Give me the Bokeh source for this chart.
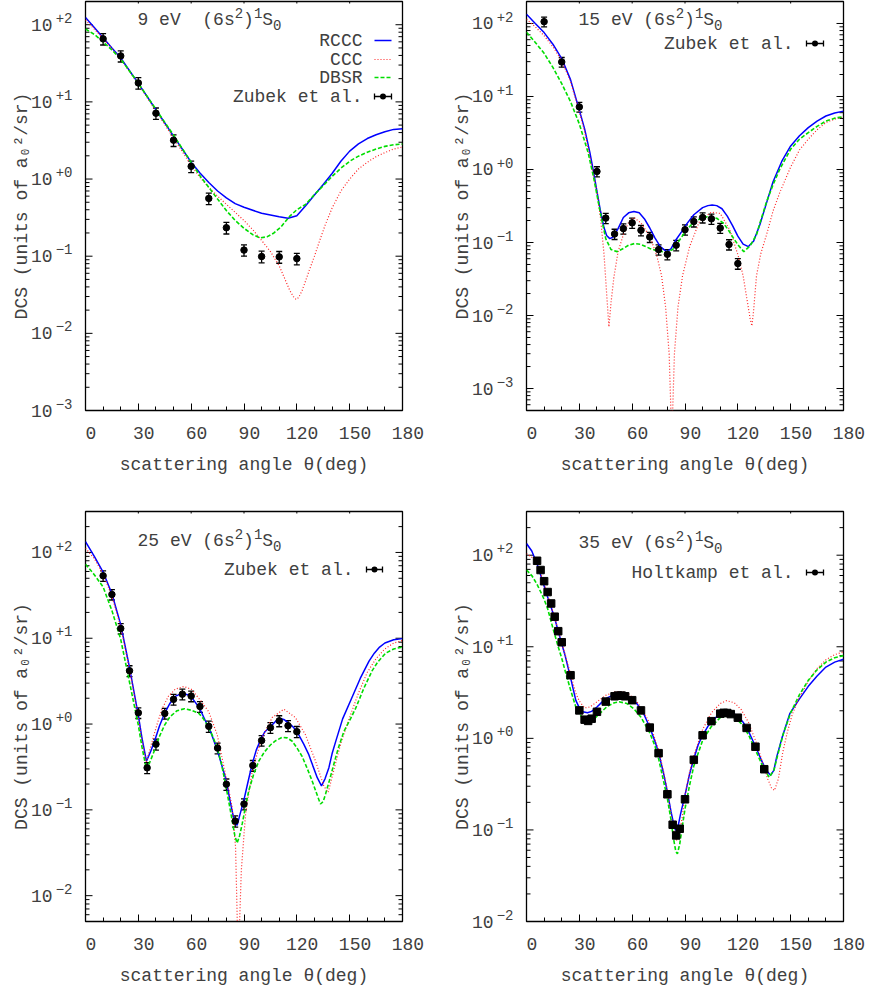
import math
import numpy as np
from bokeh.plotting import figure
from bokeh.layouts import column, row
from bokeh.models import (ColumnDataSource, Whisker, TeeHead, FixedTicker, Label, Arrow,
                          BoxAnnotation, Range1d, LogAxis, LogScale)
from bokeh.embed import file_html
from bokeh.resources import INLINE

FONT = "Liberation Mono"
INK = "#404040"
BLUE, RED, GREEN = "#0000ff", "#ff2424", "#00dd00"

# ---------------- 9 eV ----------------
e9_rccc_theta = [0, 5, 10, 15, 20, 30, 40, 50, 60, 65, 70, 75, 80, 85, 90, 100, 110, 115, 120,
                 125, 130, 135, 140, 145, 150, 155, 160, 165, 170, 175, 180]
e9_rccc_dcs = [124, 92, 68, 50, 37, 17.4, 7.9, 3.6, 1.65, 1.2, 0.9, 0.7, 0.57, 0.48, 0.43, 0.36,
               0.325, 0.31, 0.335, 0.45, 0.62, 0.85, 1.18, 1.7, 2.3, 2.85, 3.35, 3.75, 4.1, 4.4, 4.5]
e9_ccc_theta = [0, 5, 10, 20, 30, 40, 50, 60, 65, 70, 75, 80, 85, 90, 95, 100, 105, 110, 113, 116,
                118, 119.5, 121, 123, 125, 127, 130, 133, 136, 140, 145, 150, 155, 160, 165, 170,
                175, 180]
e9_ccc_dcs = [115, 88, 66, 36, 17, 7.6, 3.4, 1.5, 1.05, 0.78, 0.6, 0.47, 0.37, 0.29, 0.22, 0.16,
              0.115, 0.075, 0.052, 0.036, 0.03, 0.0275, 0.029, 0.036, 0.048, 0.065, 0.1, 0.16,
              0.25, 0.42, 0.7, 1.0, 1.35, 1.65, 1.95, 2.2, 2.45, 2.6]
e9_dbsr_theta = [0, 5, 10, 15, 20, 30, 40, 50, 60, 65, 70, 75, 80, 85, 90, 95, 99, 103, 107, 111,
                 116, 120, 125, 130, 135, 140, 145, 150, 155, 160, 165, 170, 175, 180]
e9_dbsr_dcs = [88, 75, 60, 47, 36, 17.4, 8.0, 3.7, 1.65, 1.1, 0.78, 0.55, 0.39, 0.29, 0.23, 0.19,
               0.173, 0.178, 0.2, 0.24, 0.33, 0.4, 0.47, 0.63, 0.82, 1.08, 1.38, 1.7, 1.98, 2.22,
               2.45, 2.65, 2.78, 2.84]
e9_exp_theta = [10, 20, 30, 40, 50, 60, 70, 80, 90, 100, 110, 120]
e9_exp_dcs = [65.6, 39.4, 17.6, 7.13, 3.19, 1.46, 0.561, 0.234, 0.120, 0.099, 0.098, 0.093]
e9_exp_err = [11, 6.5, 3.0, 1.2, 0.55, 0.25, 0.095, 0.04, 0.02, 0.017, 0.017, 0.016]

# ---------------- 15 eV ----------------
e15_rccc_theta = [0, 5, 10, 15, 20, 25, 30, 33, 36, 38, 40, 42, 44, 45.5, 47.3, 49, 52, 55, 58,
                  61, 64, 67, 70, 73, 76, 79.5, 82, 85, 88, 91, 95, 100, 103, 105.4, 108, 111,
                  114, 117, 120, 123, 126, 129, 132.5, 136, 140, 145, 150, 155, 160, 165, 170,
                  175, 180]
e15_rccc_dcs = [134, 100, 75, 52, 33, 17, 6.5, 3.6, 1.7, 0.95, 0.5, 0.27, 0.16, 0.125, 0.113,
                0.118, 0.155, 0.22, 0.255, 0.265, 0.255, 0.21, 0.158, 0.115, 0.088, 0.075, 0.082,
                0.11, 0.14, 0.18, 0.24, 0.30, 0.32, 0.327, 0.32, 0.29, 0.23, 0.17, 0.122, 0.095,
                0.088, 0.105, 0.175, 0.33, 0.68, 1.3, 2.1, 2.9, 3.75, 4.6, 5.4, 5.95, 6.3]
e15_ccc_theta = [0, 5, 10, 15, 20, 25, 30, 33, 36, 38, 40, 42, 44, 45.5, 46.8, 48, 49.6, 52, 55,
                 58, 61, 65, 70, 74, 76.7, 79, 81, 82.5, 84, 86, 88.6, 92.7, 98.4, 105, 110,
                 115.5, 120.2, 123, 125.5, 127, 128, 129, 130.6, 133, 136.3, 140, 143.9, 150,
                 155, 160, 165, 170, 175, 180]
e15_ccc_dcs = [114, 90, 68, 48, 31, 16, 6.2, 3.3, 1.5, 0.85, 0.5, 0.22, 0.07, 0.02, 0.007, 0.015,
               0.033, 0.075, 0.128, 0.19, 0.22, 0.185, 0.122, 0.066, 0.035, 0.013, 0.003, 0.0002,
               0.003, 0.013, 0.035, 0.089, 0.2, 0.26, 0.25, 0.148, 0.066, 0.035, 0.015, 0.009,
               0.0072, 0.012, 0.035, 0.07, 0.128, 0.27, 0.49, 1.08, 1.85, 2.6, 3.5, 4.4, 4.9, 5.25]
e15_dbsr_theta = [0, 5, 10, 15, 20, 25, 30, 35, 38, 40, 42, 45, 48, 51.5, 55, 58, 61.5, 65, 70,
                  75, 79.5, 83, 86, 89, 92, 94.6, 98, 101, 104, 108, 111.7, 114.5, 117.4, 120.5,
                  123.4, 127, 130.6, 133, 136.3, 140, 143.9, 150, 155, 160, 165, 170, 175, 180]
e15_dbsr_dcs = [76, 55, 39, 25, 15, 8.5, 4.2, 1.7, 0.8, 0.45, 0.25, 0.113, 0.08, 0.075, 0.083,
                0.092, 0.097, 0.094, 0.083, 0.076, 0.074, 0.08, 0.1, 0.128, 0.16, 0.185, 0.208,
                0.222, 0.227, 0.215, 0.185, 0.15, 0.116, 0.09, 0.075, 0.09, 0.128, 0.2, 0.36,
                0.62, 1.02, 1.9, 2.6, 3.2, 3.9, 4.6, 5.05, 5.3]
e15_exp_theta = [10, 20, 30, 40, 45, 50, 55, 60, 65, 70, 75, 80, 85, 90, 95, 100, 105, 110, 115, 120]
e15_exp_dcs = [106, 29.7, 7.2, 0.94, 0.216, 0.131, 0.155, 0.186, 0.147, 0.119, 0.080, 0.069,
               0.092, 0.15, 0.194, 0.22, 0.211, 0.158, 0.094, 0.0515]
e15_exp_err = [16, 4.5, 1.1, 0.15, 0.035, 0.021, 0.025, 0.03, 0.024, 0.019, 0.013, 0.011, 0.015,
               0.024, 0.031, 0.035, 0.034, 0.025, 0.015, 0.0085]

# ---------------- 25 eV ----------------
e25_rccc_theta = [0, 5, 10, 15, 20, 25, 30, 32, 34.6, 37, 39.7, 42, 44.9, 48, 51, 54.9, 58, 61,
                  64.7, 68, 71, 74.8, 78, 80, 82, 83.5, 84.8, 86.1, 87.5, 89.9, 92, 94.6, 97,
                  99.9, 102, 105, 108, 110.7, 113, 115.5, 118, 121.1, 124, 126.8, 129, 131.6,
                  134, 136, 138.2, 140, 142, 146, 151, 156, 161, 164, 167, 170, 175, 180]
e25_rccc_dcs = [134, 90, 59, 33, 14.4, 4.56, 1.26, 0.7, 0.369, 0.48, 0.68, 0.95, 1.33, 1.75, 2.1,
                2.29, 2.2, 1.95, 1.54, 1.1, 0.82, 0.50, 0.3, 0.217, 0.13, 0.092, 0.072, 0.066,
                0.085, 0.129, 0.2, 0.34, 0.5, 0.69, 0.82, 0.93, 1.08, 1.16, 1.12, 1.02, 0.92,
                0.75, 0.58, 0.44, 0.33, 0.237, 0.19, 0.23, 0.31, 0.45, 0.62, 1.15, 1.97, 3.4,
                5.4, 6.7, 7.9, 8.8, 9.6, 9.9]
e25_ccc_theta = [0, 5, 10, 15, 20, 25, 30, 32, 34.5, 36.5, 38.8, 41, 43.5, 47, 51, 55.8, 60, 65.3,
                 70, 74.8, 79.5, 83.3, 85.2, 86.1, 86.7, 87.5, 88.5, 90.9, 94.6, 99.9, 106,
                 112.6, 119.2, 124.9, 130.6, 135.3, 137.8, 141, 145, 150, 155, 160, 165, 170,
                 175, 180]
e25_ccc_dcs = [112, 85, 56, 31, 13.5, 4.3, 1.2, 0.65, 0.36, 0.5, 0.74, 1.05, 1.5, 2.1, 2.55,
               2.74, 2.55, 1.89, 1.39, 0.75, 0.26, 0.107, 0.037, 0.006, 0.001, 0.005, 0.02,
               0.09, 0.28, 0.67, 1.19, 1.49, 1.19, 0.75, 0.37, 0.19, 0.16, 0.29, 0.6, 1.2, 2.3,
               4.0, 5.8, 7.5, 8.8, 9.4]
e25_dbsr_theta = [0, 5, 10, 15, 20, 25, 30, 32, 34.6, 37, 39.7, 42, 44.9, 48, 52, 56.2, 60, 64.4,
                  67, 70, 72.5, 74.8, 77, 79.5, 81.5, 83.3, 84.8, 86.1, 87.5, 89, 90.9, 92.7,
                  95.5, 98.4, 101.5, 105, 108, 111.7, 114.5, 117.4, 120, 123, 126, 128.7, 131,
                  133.4, 135, 136.3, 138.5, 141, 143.5, 146.7, 150, 153.3, 158, 162.8, 166,
                  170.4, 175, 180]
e25_dbsr_dcs = [73, 55, 39.6, 21, 9.7, 3.07, 0.97, 0.55, 0.296, 0.38, 0.525, 0.72, 0.97, 1.22,
                1.43, 1.51, 1.45, 1.33, 1.15, 0.91, 0.7, 0.52, 0.36, 0.2, 0.12, 0.075, 0.05,
                0.041, 0.05, 0.069, 0.11, 0.167, 0.26, 0.37, 0.47, 0.57, 0.64, 0.70, 0.69, 0.63,
                0.53, 0.42, 0.3, 0.217, 0.16, 0.117, 0.125, 0.153, 0.22, 0.34, 0.52, 0.82, 1.1,
                1.51, 2.6, 4.2, 5.3, 6.7, 7.5, 7.9]
e25_exp_theta = [10, 15, 20, 25, 30, 35, 40, 45, 50, 55, 60, 65, 70, 75, 80, 85, 90, 95, 100,
                 105, 110, 115, 120]
e25_exp_dcs = [53.5, 32.4, 13.0, 4.18, 1.35, 0.309, 0.583, 1.33, 1.94, 2.23, 2.12, 1.60, 0.94,
               0.525, 0.199, 0.074, 0.117, 0.329, 0.643, 0.908, 1.09, 0.957, 0.816]
e25_exp_err = [7.5, 4.5, 1.8, 0.6, 0.19, 0.045, 0.085, 0.19, 0.28, 0.32, 0.3, 0.23, 0.14, 0.075,
               0.03, 0.011, 0.017, 0.047, 0.09, 0.13, 0.16, 0.14, 0.12]

# ---------------- 35 eV ----------------
e35_rccc_theta = [0, 3, 6, 8, 10, 12, 14, 16, 18, 20, 22, 25, 28, 30, 32, 34.6, 37, 40, 43, 46,
                  50, 53, 56, 60, 63, 66, 70, 73, 75, 78, 80, 82, 83.5, 84.6, 86, 87.5, 90, 92.5,
                  95, 97.5, 100, 103, 106, 110, 113.6, 117, 120, 123, 126, 130, 133, 136, 138.6,
                  140.5, 142, 145, 149.5, 155, 160, 165, 170, 175, 180]
e35_rccc_dcs = [134, 111, 80, 61, 46, 35, 27, 20.5, 14.8, 10.8, 7.9, 4.6, 2.6, 2.15, 1.95, 1.9,
                1.97, 2.2, 2.5, 2.78, 3.0, 3.05, 2.98, 2.7, 2.35, 1.95, 1.32, 0.92, 0.70, 0.4,
                0.26, 0.16, 0.118, 0.099, 0.108, 0.15, 0.24, 0.4, 0.6, 0.85, 1.08, 1.35, 1.6,
                1.85, 1.95, 1.9, 1.75, 1.5, 1.2, 0.82, 0.6, 0.45, 0.395, 0.45, 0.62, 1.0, 1.86,
                2.7, 3.7, 4.8, 6.0, 6.8, 7.3]
e35_ccc_theta = [0, 3, 6, 8, 10, 12, 14, 16, 18, 20, 22, 25, 28, 30, 33, 36, 40, 45, 50, 54, 58,
                 62, 66, 70, 73, 75, 78, 80, 82, 83.5, 85.3, 87, 88.5, 90, 92.5, 95, 100, 105,
                 110, 113.6, 118, 122, 126, 130, 134, 137, 139, 140.8, 143, 145.5, 148, 151, 155,
                 160, 165, 170, 175, 180]
e35_ccc_dcs = [104, 95, 80, 64, 49, 37, 28, 21, 15.2, 11, 8.2, 5.0, 3.1, 2.55, 2.15, 2.2, 2.5,
               2.95, 3.2, 3.25, 3.05, 2.6, 2.05, 1.45, 0.98, 0.75, 0.42, 0.27, 0.15, 0.1, 0.077,
               0.095, 0.14, 0.24, 0.42, 0.65, 1.25, 1.9, 2.4, 2.58, 2.45, 2.05, 1.5, 0.95, 0.55,
               0.36, 0.29, 0.27, 0.36, 0.7, 1.15, 1.85, 2.8, 4.2, 5.8, 7.2, 8.2, 8.8]
e35_dbsr_theta = [0, 3, 6, 8, 10, 12, 15, 18, 20, 22, 25, 28, 30, 33, 35, 38, 42, 46, 50, 53, 57,
                  61, 65, 70, 73, 75, 78, 80, 82, 83.5, 84.8, 85.7, 87, 88.5, 90, 92.5, 95, 100,
                  105, 110, 114, 118, 122, 126, 130, 134, 137.8, 140.5, 143, 146, 150, 155, 160,
                  165, 170, 175, 180]
e35_dbsr_dcs = [69, 60, 48, 40, 33, 26, 16, 10, 7.5, 5.4, 3.4, 2.2, 1.85, 1.6, 1.52, 1.6, 1.9,
                2.25, 2.45, 2.5, 2.4, 2.1, 1.7, 1.15, 0.82, 0.6, 0.33, 0.22, 0.13, 0.08, 0.058,
                0.055, 0.07, 0.11, 0.17, 0.3, 0.5, 0.95, 1.35, 1.68, 1.78, 1.7, 1.45, 1.1, 0.75,
                0.5, 0.376, 0.45, 0.7, 1.15, 1.9, 3.0, 4.3, 5.6, 6.8, 7.6, 8.0]
e35_exp_theta = [6, 8, 10, 12, 14, 16, 18, 20, 25, 30, 33, 35, 37, 40, 45, 50, 52, 54, 56, 60, 65,
                 70, 75, 80, 83, 85, 87, 90, 95, 100, 105, 110, 112, 114, 116, 120, 125, 130, 135]
e35_exp_dcs = [86.9, 68.9, 52, 39.6, 29.7, 21.3, 14.8, 11.2, 4.89, 2.02, 1.60, 1.55, 1.64, 1.95,
               2.52, 2.88, 2.93, 2.93, 2.88, 2.61, 2.02, 1.31, 0.689, 0.245, 0.114, 0.087, 0.103,
               0.216, 0.583, 1.08, 1.54, 1.86, 1.90, 1.89, 1.84, 1.68, 1.30, 0.81, 0.46]
e35_exp_err = [5.2, 4.1, 3.1, 2.4, 1.8, 1.3, 0.9, 0.67, 0.29, 0.12, 0.096, 0.093, 0.098, 0.117,
               0.15, 0.17, 0.18, 0.18, 0.17, 0.16, 0.12, 0.079, 0.041, 0.015, 0.0068, 0.0052,
               0.0062, 0.013, 0.035, 0.065, 0.092, 0.11, 0.11, 0.11, 0.11, 0.10, 0.078, 0.049,
               0.028]

# ---------------- axes ----------------
x_ticks = [0, 30, 60, 90, 120, 150, 180]
x_minor = [10, 20, 40, 50, 70, 80, 100, 110, 130, 140, 160, 170]
y_ticks = [1e-3, 1e-2, 1e-1, 1.0, 10.0, 100.0]
y_exponents = ["−3", "−2", "−1", "+0", "+1", "+2"]
y_minor = [m * 10.0 ** d for d in range(-4, 3) for m in range(2, 10)]

x_title = "scattering angle θ(deg)"
y_title = "DCS (units of a₀²/sr)"

FS, FS_SMALL = 18, 14          # main and superscript font sizes (px)
ADV = 0.6                      # monospace advance, in em
MAJOR_LEN, MINOR_LEN = 7, 4
SUP_RISE = 7                   # how far an exponent sits above its tick label (px)
NBSP = "\u00a0"


def style_text_axis(ax, size):
    ax.axis_line_color = None
    ax.major_tick_in = 0
    ax.major_tick_out = 0
    ax.minor_tick_in = 0
    ax.minor_tick_out = 0
    ax.major_tick_line_color = None
    ax.minor_tick_line_color = None
    ax.major_label_text_font = FONT
    ax.major_label_text_font_size = f"{size}px"
    ax.major_label_text_color = INK
    ax.axis_label_text_font = FONT
    ax.axis_label_text_font_size = f"{FS}px"
    ax.axis_label_text_font_style = "normal"
    ax.axis_label_text_color = INK


def frame_ticks(p, fw, fh, y_lo, y_hi):
    """Inward ticks on the left, top and right edges of the frame."""
    def add(src, dim):
        p.add_layout(Whisker(source=src, base="b", lower="lo", upper="hi", dimension=dim,
                             lower_units="screen", upper_units="screen",
                             lower_head=None, upper_head=None,
                             line_color="black", line_width=1))
    for ticks, length in ((x_ticks, MAJOR_LEN), (x_minor, MINOR_LEN)):
        n = len(ticks)
        add(ColumnDataSource(dict(b=ticks, lo=[fh - length] * n, hi=[fh] * n)), "height")
    for ticks, length in ((y_ticks, MAJOR_LEN), (y_minor, MINOR_LEN)):
        inside = [t for t in ticks if y_lo < t < y_hi]
        n = len(inside)
        add(ColumnDataSource(dict(b=inside, lo=[fw - length] * n, hi=[fw] * n)), "width")
        add(ColumnDataSource(dict(b=inside, lo=[0] * n, hi=[length] * n)), "width")


def make_panel(width, height, borders, y_lo, y_hi):
    left, right, top, bottom = borders
    fw, fh = width - left - right, height - top - bottom
    # exponent labels use a copy of the y range nudged so they sit SUP_RISE px higher
    px_per_decade = fh / math.log10(y_hi / y_lo)
    nudge = 10 ** (-SUP_RISE / px_per_decade)
    p = figure(width=width, height=height, x_range=Range1d(0, 180),
               y_range=Range1d(y_lo, y_hi), y_axis_type="log",
               output_backend="svg", toolbar_location=None,
               min_border_left=left, min_border_right=right,
               min_border_top=top, min_border_bottom=bottom)
    p.extra_y_ranges = {"sup": Range1d(y_lo * nudge, y_hi * nudge)}
    p.extra_y_scales = {"sup": LogScale()}
    p.grid.visible = False
    p.outline_line_color = "black"
    p.outline_line_width = 1.3

    # x axis: ticks drawn by the axis, labels half a character right of the tick
    xax = p.xaxis[0]
    xax.ticker = FixedTicker(ticks=x_ticks, minor_ticks=x_minor)
    style_text_axis(xax, FS)
    xax.major_tick_in = MAJOR_LEN
    xax.minor_tick_in = MINOR_LEN
    xax.major_tick_line_color = "black"
    xax.minor_tick_line_color = "black"
    xax.major_label_overrides = {t: NBSP + str(t) for t in x_ticks}
    xax.major_label_standoff = 13
    xax.axis_label = x_title
    xax.axis_label_standoff = 8

    # y axis: exponent column next to the frame, mantissa "10" further out
    yax = p.yaxis[0]
    yax.ticker = FixedTicker(ticks=y_ticks, minor_ticks=[])
    style_text_axis(yax, FS)
    yax.major_label_overrides = {t: "10" for t in y_ticks}
    yax.major_label_standoff = 0
    yax.axis_label = y_title
    yax.axis_label_standoff = -4
    sup_ax = LogAxis(y_range_name="sup", ticker=FixedTicker(ticks=y_ticks, minor_ticks=[]))
    style_text_axis(sup_ax, FS_SMALL)
    sup_ax.major_label_overrides = dict(zip(y_ticks, y_exponents))
    sup_ax.major_label_standoff = 13
    p.left = [sup_ax, yax]

    frame_ticks(p, fw, fh, y_lo, y_hi)
    return p


def draw_models(p, curves):
    for (theta, dcs), color, dash, lw in zip(curves, [BLUE, RED, GREEN],
                                               ["solid", "1 2", "4 2"], [1.5, 1.2, 1.6]):
        p.line(theta, dcs, line_color=color, line_dash=dash, line_width=lw)


def draw_data(p, theta, dcs, err, marker="circle", size=6.5):
    d = np.array(dcs)
    e = np.array(err)
    src = ColumnDataSource(dict(theta=theta, dcs=dcs, lo=d - e, hi=d + e))
    p.add_layout(Whisker(source=src, base="theta", lower="lo", upper="hi",
                         line_color="black", line_width=1.3,
                         lower_head=TeeHead(size=6, line_color="black", line_width=1.3),
                         upper_head=TeeHead(size=6, line_color="black", line_width=1.3)))
    p.scatter("theta", "dcs", source=src, marker=marker, size=size,
              fill_color="black", line_color="black")


def text(p, x, y, s, align="left", size=FS):
    p.add_layout(Label(x=x, y=y, x_units="screen", y_units="screen", text=s,
                       text_font=FONT, text_font_size=f"{size}px", text_color=INK,
                       text_align=align, text_baseline="middle"))


def rich_text(p, x, y, parts):
    """Left-aligned text built from (string, 'n'|'sup'|'sub') pieces."""
    cx = x
    for s, kind in parts:
        size = FS if kind == "n" else FS_SMALL
        dy = {"n": 0, "sup": 7, "sub": -5}[kind]
        text(p, cx, y + dy, s.replace(" ", NBSP), size=size)
        cx += len(s) * ADV * size


def state_title(p, x, y, energy):
    rich_text(p, x, y, [(energy + "(6s", "n"), ("2", "sup"), (")", "n"),
                        ("1", "sup"), ("S", "n"), ("0", "sub")])


def key_line(p, x_text, x0, x1, y, label, color, dash, lw):
    text(p, x_text, y, label, align="right")
    p.add_layout(Arrow(x_start=x0, y_start=y, x_end=x1, y_end=y,
                       start_units="screen", end_units="screen", start=None, end=None,
                       line_color=color, line_dash=dash, line_width=lw))


def key_points(p, x_text, x0, x1, y, label):
    text(p, x_text, y, label, align="right")
    src = ColumnDataSource(dict(b=[y], lo=[x0], hi=[x1]))
    p.add_layout(Whisker(source=src, base="b", lower="lo", upper="hi", dimension="width",
                         base_units="screen", lower_units="screen", upper_units="screen",
                         line_color="black", line_width=1.3,
                         lower_head=TeeHead(size=6, line_color="black", line_width=1.3),
                         upper_head=TeeHead(size=6, line_color="black", line_width=1.3)))
    xc = 0.5 * (x0 + x1)
    p.add_layout(BoxAnnotation(left=xc - 3, right=xc + 3, bottom=y - 3, top=y + 3,
                               left_units="screen", right_units="screen",
                               top_units="screen", bottom_units="screen",
                               fill_color="black", fill_alpha=1.0, line_color=None,
                               border_radius=3))


# 9 eV
p1 = make_panel(441, 477, (85, 39, 1, 62), 1e-3, 200)
draw_models(p1, [(e9_rccc_theta, e9_rccc_dcs), (e9_ccc_theta, e9_ccc_dcs),
                 (e9_dbsr_theta, e9_dbsr_dcs)])
draw_data(p1, e9_exp_theta, e9_exp_dcs, e9_exp_err)
state_title(p1, 52, 391, "9 eV  ")
key_line(p1, 277, 289, 306, 370, "RCCC", BLUE, "solid", 1.5)
key_line(p1, 277, 289, 306, 351, "CCC", RED, "1 2", 1.2)
key_line(p1, 277, 289, 306, 333, "DBSR", GREEN, "4 2", 1.6)
key_points(p1, 277, 289, 306, 314, "Zubek et al.")

# 15 eV
p2 = make_panel(428, 477, (85, 26, 1, 62), 5e-4, 200)
draw_models(p2, [(e15_rccc_theta, e15_rccc_dcs), (e15_ccc_theta, e15_ccc_dcs),
                 (e15_dbsr_theta, e15_dbsr_dcs)])
draw_data(p2, e15_exp_theta, e15_exp_dcs, e15_exp_err)
state_title(p2, 52, 391, "15 eV ")
key_points(p2, 267, 280, 297, 367, "Zubek et al.")

# 25 eV
p3 = make_panel(441, 511, (85, 39, 34, 62), 5e-3, 300)
draw_models(p3, [(e25_rccc_theta, e25_rccc_dcs), (e25_ccc_theta, e25_ccc_dcs),
                 (e25_dbsr_theta, e25_dbsr_dcs)])
draw_data(p3, e25_exp_theta, e25_exp_dcs, e25_exp_err)
state_title(p3, 52, 381, "25 eV ")
key_points(p3, 268, 281, 297, 352, "Zubek et al.")

# 35 eV
p4 = make_panel(428, 511, (85, 26, 34, 62), 1e-2, 300)
draw_models(p4, [(e35_rccc_theta, e35_rccc_dcs), (e35_ccc_theta, e35_ccc_dcs),
                 (e35_dbsr_theta, e35_dbsr_dcs)])
draw_data(p4, e35_exp_theta, e35_exp_dcs, e35_exp_err, marker="square", size=7.5)
state_title(p4, 52, 379, "35 eV ")
key_points(p4, 267, 280, 297, 349, "Holtkamp et al.")

layout = column(row(p1, p2), row(p3, p4))
open("out.html", "w").write(file_html(layout, INLINE))
